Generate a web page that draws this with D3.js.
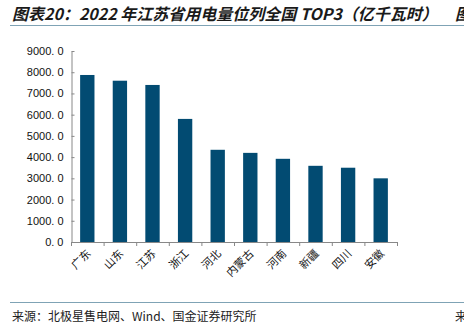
<!DOCTYPE html>
<html><head><meta charset="utf-8">
<script src="https://cdn.jsdelivr.net/npm/d3@7/dist/d3.min.js"></script>
<style>body{margin:0;background:#fff;overflow:hidden}svg{display:block}</style>
</head><body>
<script>
const categories = ["广东","山东","江苏","浙江","河北","内蒙古","河南","新疆","四川","安徽"];
const values = [7870, 7600, 7400, 5800, 4345, 4200, 3920, 3590, 3500, 3000];
const yTicks = [0,1000,2000,3000,4000,5000,6000,7000,8000,9000];
const titleText = "图表20：2022 年江苏省用电量位列全国 TOP3（亿千瓦时）";
const sourceText = "来源：北极星售电网、Wind、国金证券研究所";

const W = 464, H = 325;
const svg = d3.select("body").append("svg").attr("width", W).attr("height", H);
const cjk = "'Noto Sans CJK SC', sans-serif";

svg.append("text").attr("x", 12).attr("y", 20)
  .attr("font-family", cjk).attr("font-size", 16).attr("font-weight", "bold")
  .attr("font-style", "italic").attr("fill", "#1a1a1a").text(titleText);
svg.append("text").attr("x", 455).attr("y", 20)
  .attr("font-family", cjk).attr("font-size", 16).attr("font-weight", "bold")
  .attr("font-style", "italic").attr("fill", "#1a1a1a").text("图");
svg.append("line").attr("x1", 10).attr("x2", W).attr("y1", 25.5).attr("y2", 25.5)
  .attr("stroke", "#7fa3b5").attr("stroke-width", 1.2);

const x0 = 71, x1 = 397;
const x = d3.scaleBand().domain(categories).range([x0, x1]).paddingInner(0.56).paddingOuter(0.28);
const y = d3.scaleLinear().domain([0, 9000]).range([242, 51]);

const g = svg.append("g");
g.selectAll("rect.bar").data(values).join("rect").attr("class","bar")
  .attr("x", (d,i) => x(categories[i])).attr("width", x.bandwidth())
  .attr("y", d => y(d)).attr("height", d => y(0) - y(d))
  .attr("fill", "#024b72");

const yAxis = d3.axisLeft(y).tickValues(yTicks).tickSize(-3).tickSizeOuter(0)
  .tickFormat(d => d3.format(".1f")(d).replace(".", ". "));
const ya = svg.append("g").attr("transform", `translate(${x0 + 0.5},0)`).call(yAxis);
ya.select(".domain").attr("stroke", "#888");
ya.selectAll(".tick line").attr("stroke", "#888");
ya.selectAll(".tick text").attr("font-family", "'Liberation Sans', Arial, sans-serif")
  .attr("font-size", 11).attr("fill", "#111").attr("x", -8);

// x axis baseline and boundary ticks
const xa = svg.append("g");
xa.append("line").attr("x1", x0).attr("x2", x1).attr("y1", y(0)+0.5).attr("y2", y(0)+0.5).attr("stroke", "#888");
const bounds = d3.range(categories.length + 1).map(i => x0 + i * x.step());
xa.selectAll("line.bt").data(bounds).join("line").attr("class","bt")
  .attr("x1", d => d + 0.5).attr("x2", d => d + 0.5).attr("y1", y(0)).attr("y2", y(0)+4).attr("stroke", "#888");
xa.selectAll("text").data(categories).join("text")
  .attr("transform", d => `translate(${x(d) + x.bandwidth()/2 + 2},${y(0)+10}) rotate(-45)`)
  .attr("text-anchor", "end").attr("dominant-baseline", "middle")
  .attr("font-family", cjk).attr("font-size", 11).attr("fill", "#111").text(d => d);

svg.append("line").attr("x1", 10).attr("x2", W).attr("y1", 302.5).attr("y2", 302.5)
  .attr("stroke", "#7fa3b5").attr("stroke-width", 1.2);
svg.append("text").attr("x", 12).attr("y", 321)
  .attr("font-family", cjk).attr("font-size", 12).attr("fill", "#222").text(sourceText);
svg.append("text").attr("x", 455).attr("y", 321)
  .attr("font-family", cjk).attr("font-size", 12).attr("fill", "#222").text("来");
</script>
</body></html>
